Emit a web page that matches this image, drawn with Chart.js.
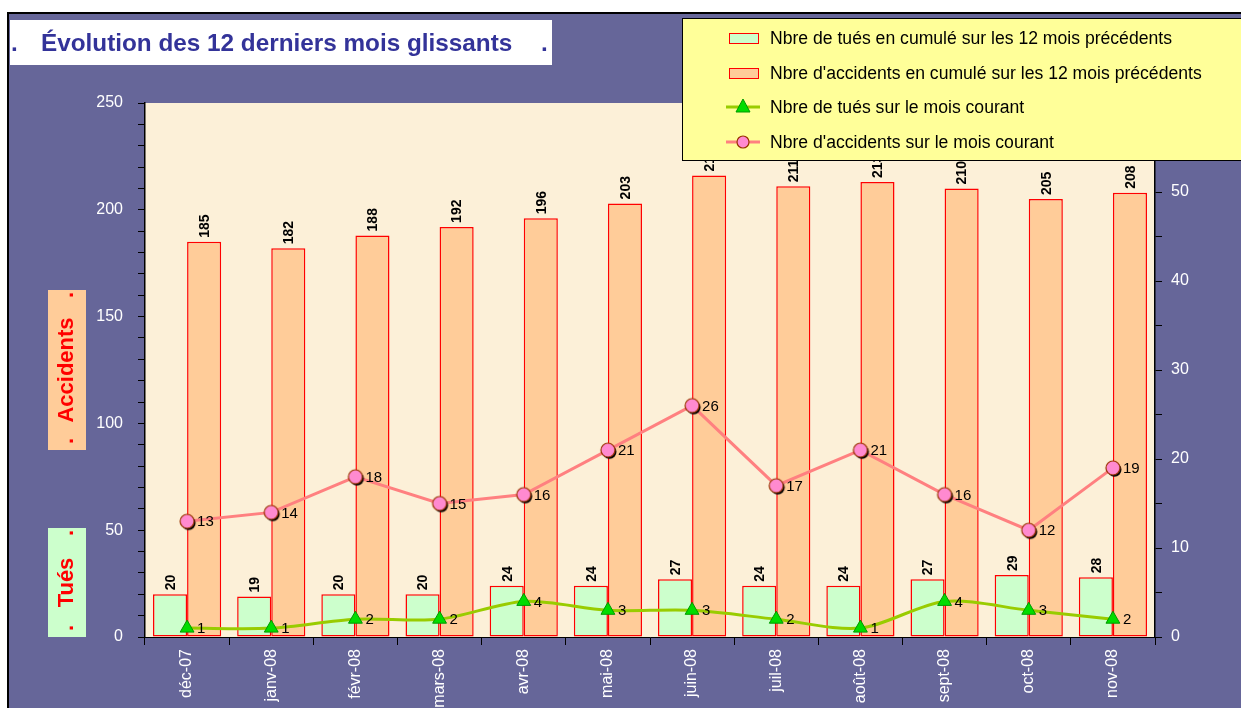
<!DOCTYPE html>
<html lang="fr">
<head>
<meta charset="utf-8">
<title>Évolution des 12 derniers mois glissants</title>
<script src="https://cdn.jsdelivr.net/npm/chart.js@4/dist/chart.umd.min.js"></script>
<style>
html, body { margin: 0; padding: 0; background: #fff; overflow: hidden; }
canvas { display: block; }
</style>
</head>
<body>
<canvas id="chart" width="1241" height="708"></canvas>
<script>
// --- DATA ---
const months = ['déc-07', 'janv-08', 'févr-08', 'mars-08', 'avr-08', 'mai-08',
                'juin-08', 'juil-08', 'août-08', 'sept-08', 'oct-08', 'nov-08'];
const tuesCumul = [20, 19, 20, 20, 24, 24, 27, 24, 24, 27, 29, 28];
const accidentsCumul = [185, 182, 188, 192, 196, 203, 216, 211, 213, 210, 205, 208];
const tuesMois = [1, 1, 2, 2, 4, 3, 3, 2, 1, 4, 3, 2];
const accidentsMois = [13, 14, 18, 15, 16, 21, 26, 17, 21, 16, 12, 19];
const leftTickLabels = [0, 50, 100, 150, 200, 250];
const rightTickLabels = [0, 10, 20, 30, 40, 50];

const FONT = '"Liberation Sans", Arial, sans-serif';
const SLATE = '#666699';

// pink circle marker with a black drop shadow
function makeCircleMarker() {
    const c = document.createElement('canvas');
    c.width = 22; c.height = 22;
    const g = c.getContext('2d');
    g.fillStyle = '#000';
    g.beginPath(); g.arc(12.5, 12.8, 7, 0, 2 * Math.PI); g.fill();
    g.fillStyle = '#FF8AD0';
    g.strokeStyle = '#993300';
    g.lineWidth = 1.2;
    g.beginPath(); g.arc(11, 11, 7, 0, 2 * Math.PI); g.fill(); g.stroke();
    return c;
}
const circleMarker = makeCircleMarker();

// background, frame, title and axis caption boxes
const decorPlugin = {
    id: 'decor',
    beforeDraw(chart) {
        const ctx = chart.ctx;
        const a = chart.chartArea;
        ctx.save();
        ctx.fillStyle = '#fff';
        ctx.fillRect(0, 0, chart.width, chart.height);
        ctx.fillStyle = SLATE;
        ctx.fillRect(8, 13, chart.width - 8, chart.height - 13);
        ctx.strokeStyle = '#000';
        ctx.lineWidth = 2;
        ctx.beginPath();
        ctx.moveTo(8, chart.height); ctx.lineTo(8, 13); ctx.lineTo(chart.width, 13);
        ctx.stroke();

        // plot area
        ctx.fillStyle = '#FCF0D8';
        ctx.fillRect(a.left, a.top, a.right - a.left, a.bottom - a.top);

        // title box
        ctx.fillStyle = '#fff';
        ctx.fillRect(10, 20, 542, 45);
        ctx.fillStyle = '#333399';
        ctx.font = 'bold 24.3px ' + FONT;
        ctx.textBaseline = 'middle';
        ctx.textAlign = 'left';
        ctx.fillText('.', 11, 44);
        ctx.fillText('Évolution des 12 derniers mois glissants', 41, 44);
        ctx.fillText('.', 541, 44);

        // axis caption boxes
        const captions = [
            { text: 'Accidents', top: 290, bottom: 450, fill: '#FFCC99' },
            { text: 'Tués', top: 528, bottom: 637, fill: '#CCFFCC' }
        ];
        captions.forEach(c => {
            ctx.fillStyle = c.fill;
            ctx.fillRect(48, c.top, 38, c.bottom - c.top);
            ctx.save();
            ctx.translate(66, 0);
            ctx.rotate(-Math.PI / 2);
            ctx.fillStyle = '#FF0000';
            ctx.font = 'bold 22px ' + FONT;
            ctx.textAlign = 'center';
            ctx.textBaseline = 'middle';
            const mid = (c.top + c.bottom) / 2;
            ctx.fillText(c.text, -mid, 1);
            ctx.fillText('.', -(c.top + 5), 1);
            ctx.fillText('.', -(c.bottom - 9), 1);
            ctx.restore();
        });
        ctx.restore();
    },
    afterDraw(chart) {
        // legend box drawn over the chart
        const ctx = chart.ctx;
        ctx.save();
        ctx.fillStyle = '#FFFF99';
        ctx.fillRect(682, 18, 570, 142);
        ctx.strokeStyle = '#000';
        ctx.lineWidth = 1;
        ctx.strokeRect(682.5, 18.5, 570, 142);
        const rows = [38, 73, 107, 142];
        chart.data.datasets.forEach((ds, i) => {
            const y = rows[i];
            if (ds.type === 'bar') {
                ctx.fillStyle = ds.backgroundColor;
                ctx.fillRect(729, y - 5, 29, 11);
                ctx.strokeStyle = ds.borderColor;
                ctx.strokeRect(729.5, y - 4.5, 29, 10);
            } else {
                ctx.strokeStyle = ds.borderColor;
                ctx.lineWidth = 3;
                ctx.beginPath(); ctx.moveTo(726, y); ctx.lineTo(760, y); ctx.stroke();
                if (ds.pointStyle === 'triangle') {
                    ctx.fillStyle = ds.pointBackgroundColor;
                    ctx.strokeStyle = ds.pointBorderColor;
                    ctx.lineWidth = 1;
                    ctx.beginPath();
                    ctx.moveTo(743, y - 8); ctx.lineTo(750, y + 5); ctx.lineTo(736, y + 5);
                    ctx.closePath(); ctx.fill(); ctx.stroke();
                } else {
                    ctx.fillStyle = '#FF8AD0';
                    ctx.strokeStyle = '#993300';
                    ctx.lineWidth = 1.2;
                    ctx.beginPath(); ctx.arc(743, y, 6, 0, 2 * Math.PI); ctx.fill(); ctx.stroke();
                }
            }
            ctx.fillStyle = '#000';
            ctx.font = '17.6px ' + FONT;
            ctx.textAlign = 'left';
            ctx.textBaseline = 'middle';
            ctx.fillText(ds.label, 770, y + 1);
        });
        ctx.restore();
    }
};

// value labels on bars and points
const valueLabels = {
    id: 'valueLabels',
    afterDatasetsDraw(chart) {
        const ctx = chart.ctx;
        chart.data.datasets.forEach((ds, i) => {
            const meta = chart.getDatasetMeta(i);
            meta.data.forEach((el, j) => {
                const v = ds.data[j];
                ctx.save();
                ctx.fillStyle = '#000';
                if (ds.type === 'bar') {
                    ctx.translate(el.x + 1, el.y - 4);
                    ctx.rotate(-Math.PI / 2);
                    ctx.font = 'bold 14px ' + FONT;
                    ctx.textAlign = 'left';
                    ctx.textBaseline = 'middle';
                    ctx.fillText(String(v), 0, 0);
                } else {
                    ctx.font = '15px ' + FONT;
                    ctx.textAlign = 'left';
                    ctx.textBaseline = 'middle';
                    ctx.fillText(String(v), el.x + 10, el.y + 1);
                }
                ctx.restore();
            });
        });
    }
};

const ctx = document.getElementById('chart').getContext('2d');
const chart = new Chart(ctx, {
    data: {
        labels: months,
        datasets: [
            {
                type: 'bar', label: 'Nbre de tués en cumulé sur les 12 mois précédents',
                data: tuesCumul, yAxisID: 'y',
                backgroundColor: '#CCFFCC', borderColor: '#FF0000', borderWidth: 1.5,
                borderSkipped: false,
                barPercentage: 1.0, categoryPercentage: 0.81, order: 2
            },
            {
                type: 'bar', label: "Nbre d'accidents en cumulé sur les 12 mois précédents",
                data: accidentsCumul, yAxisID: 'y',
                backgroundColor: '#FFCC99', borderColor: '#FF0000', borderWidth: 1.5,
                borderSkipped: false,
                barPercentage: 1.0, categoryPercentage: 0.81, order: 2
            },
            {
                type: 'line', label: 'Nbre de tués sur le mois courant',
                data: tuesMois, yAxisID: 'y1',
                borderColor: '#99CC00', borderWidth: 3, tension: 0.3,
                pointStyle: 'triangle', pointRadius: 8,
                pointBackgroundColor: '#00DD00', pointBorderColor: '#009900', pointBorderWidth: 1,
                order: 1
            },
            {
                type: 'line', label: "Nbre d'accidents sur le mois courant",
                data: accidentsMois, yAxisID: 'y1',
                borderColor: '#FF8080', borderWidth: 3, tension: 0,
                pointStyle: circleMarker, pointRadius: 8,
                order: 1
            }
        ]
    },
    options: {
        responsive: false,
        animation: false,
        layout: { padding: { top: 103, left: 0, right: 0, bottom: 0 } },
        plugins: {
            legend: { display: false },
            title: { display: false },
            tooltip: { enabled: false }
        },
        scales: {
            x: {
                offset: true,
                grid: { offset: true, drawOnChartArea: false, drawTicks: true, tickLength: 8, color: '#000' },
                border: { color: '#000', width: 1 },
                ticks: {
                    color: '#fff', font: { family: FONT, size: 16 },
                    minRotation: 90, maxRotation: 90, autoSkip: false, padding: 4
                },
                afterFit(scale) { scale.height = 71; }
            },
            y: {
                position: 'left', min: 0, max: 250,
                grid: { drawOnChartArea: false, tickLength: 7, color: '#000' },
                border: { color: '#000', width: 1.5 },
                ticks: {
                    stepSize: 10, autoSkip: false, color: '#fff',
                    font: { family: FONT, size: 16 }, padding: 15,
                    callback: v => leftTickLabels.includes(v) ? v : ''
                },
                afterFit(scale) { scale.width = 145; }
            },
            y1: {
                position: 'right', min: 0, max: 60,
                grid: { drawOnChartArea: false, tickLength: 7, color: '#000' },
                border: { color: '#000', width: 1.5 },
                ticks: {
                    stepSize: 5, autoSkip: false, color: '#fff',
                    font: { family: FONT, size: 16 }, padding: 9,
                    callback: v => rightTickLabels.includes(v) ? v : ''
                },
                afterFit(scale) { scale.width = 86; }
            }
        }
    },
    plugins: [decorPlugin, valueLabels]
});
</script>
</body>
</html>
